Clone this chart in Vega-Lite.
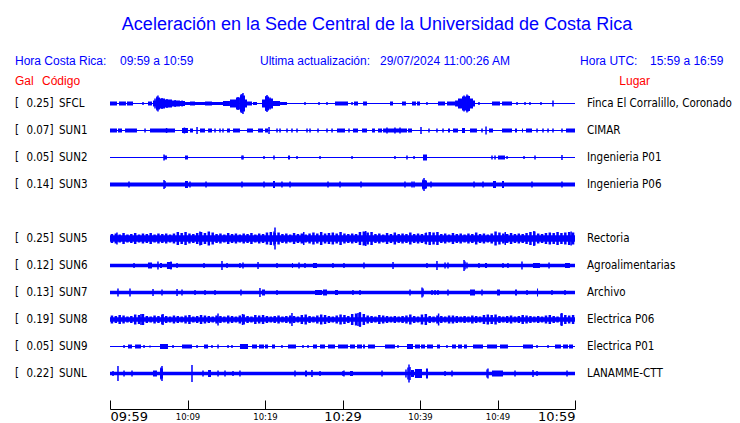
{
"$schema":"https://vega.github.io/schema/vega-lite/v6.json",
"width":465,"height":369,
"autosize":{"type":"none"},
"padding":{"left":110,"top":40,"right":165,"bottom":14},
"background":"#ffffff",
"config":{"view":{"stroke":null},"axisY":{"disable":true}},
"title":{"text":"Aceleración en la Sede Central de la Universidad de Costa Rica","font":"Liberation Sans","fontSize":18,"fontWeight":"normal","color":"#0000ff","anchor":"middle","dx":34.5,"offset":6},
"datasets":{
"st":[
{"s":"SFCL","g":0.25,"lugar":"Finca El Corralillo, Coronado","b":0.5},
{"s":"SUN1","g":0.07,"lugar":"CIMAR","b":0.5},
{"s":"SUN2","g":0.05,"lugar":"Ingenieria P01","b":0.5},
{"s":"SUN3","g":0.14,"lugar":"Ingenieria P06","b":2},
{"s":"SUN5","g":0.25,"lugar":"Rectoria","b":3.3},
{"s":"SUN6","g":0.12,"lugar":"Agroalimentarias","b":1.7},
{"s":"SUN7","g":0.13,"lugar":"Archivo","b":1.7},
{"s":"SUN8","g":0.19,"lugar":"Electrica P06","b":2.3},
{"s":"SUN9","g":0.05,"lugar":"Electrica P01","b":0.5},
{"s":"SUNL","g":0.22,"lugar":"LANAMME-CTT","b":1.8}
],
"blk":[
{"s":"SFCL","t":0,"t2":0.9,"a":2},{"s":"SFCL","t":1.16,"t2":2.06,"a":2},{"s":"SFCL","t":2.19,"t2":2.97,"a":2},{"s":"SFCL","t":4.9,"t2":5.42,"a":2},
{"s":"SFCL","t":5.55,"t2":5.94,"a":3},{"s":"SFCL","t":5.94,"t2":6.45,"a":6},{"s":"SFCL","t":6.45,"t2":7.1,"a":5},{"s":"SFCL","t":7.1,"t2":8.0,"a":4},
{"s":"SFCL","t":8.0,"t2":9.03,"a":3},{"s":"SFCL","t":9.03,"t2":9.68,"a":2.5},{"s":"SFCL","t":9.68,"t2":14.58,"a":1.5},{"s":"SFCL","t":10.32,"t2":10.97,"a":2},
{"s":"SFCL","t":12.26,"t2":13.16,"a":2},{"s":"SFCL","t":14.58,"t2":15.48,"a":2.5},{"s":"SFCL","t":15.48,"t2":16.26,"a":4},{"s":"SFCL","t":16.26,"t2":16.77,"a":6},
{"s":"SFCL","t":16.77,"t2":17.42,"a":8},{"s":"SFCL","t":17.42,"t2":17.68,"a":4},{"s":"SFCL","t":17.68,"t2":18.32,"a":2},{"s":"SFCL","t":18.45,"t2":18.97,"a":1.5},
{"s":"SFCL","t":19.61,"t2":20.0,"a":4},{"s":"SFCL","t":20.0,"t2":20.52,"a":7},{"s":"SFCL","t":20.52,"t2":21.03,"a":5},{"s":"SFCL","t":21.03,"t2":21.94,"a":2.5},
{"s":"SFCL","t":21.94,"t2":22.84,"a":1.5},{"s":"SFCL","t":29.03,"t2":30.71,"a":2},{"s":"SFCL","t":31.48,"t2":32.0,"a":2},{"s":"SFCL","t":32.65,"t2":33.16,"a":2},
{"s":"SFCL","t":36.13,"t2":36.52,"a":2},{"s":"SFCL","t":37.68,"t2":38.19,"a":2},{"s":"SFCL","t":38.97,"t2":39.48,"a":2},{"s":"SFCL","t":39.61,"t2":40.0,"a":2},
{"s":"SFCL","t":42.32,"t2":43.23,"a":2},{"s":"SFCL","t":43.48,"t2":44.52,"a":2},{"s":"SFCL","t":44.52,"t2":44.9,"a":3},{"s":"SFCL","t":44.9,"t2":45.42,"a":5},
{"s":"SFCL","t":45.42,"t2":45.94,"a":7},{"s":"SFCL","t":45.94,"t2":46.45,"a":7.5},{"s":"SFCL","t":46.45,"t2":46.84,"a":5},{"s":"SFCL","t":46.84,"t2":47.1,"a":3},
{"s":"SFCL","t":49.29,"t2":50.32,"a":2},{"s":"SFCL","t":50.58,"t2":51.87,"a":2},
{"s":"SUN1","t":0,"t2":0.9,"a":2},{"s":"SUN1","t":1.03,"t2":1.55,"a":2},{"s":"SUN1","t":1.94,"t2":2.32,"a":2},{"s":"SUN1","t":2.32,"t2":3.48,"a":2},
{"s":"SUN1","t":5.16,"t2":6.71,"a":2},{"s":"SUN1","t":6.71,"t2":8.39,"a":2},{"s":"SUN1","t":9.29,"t2":10.06,"a":2.5},{"s":"SUN1","t":10.32,"t2":10.71,"a":2},
{"s":"SUN1","t":11.61,"t2":12.26,"a":2},{"s":"SUN1","t":12.65,"t2":13.16,"a":2},{"s":"SUN1","t":15.1,"t2":15.48,"a":2},{"s":"SUN1","t":15.87,"t2":16.77,"a":2},
{"s":"SUN1","t":17.68,"t2":18.45,"a":2},{"s":"SUN1","t":19.1,"t2":19.74,"a":2},{"s":"SUN1","t":20.0,"t2":20.39,"a":2},{"s":"SUN1","t":29.29,"t2":30.32,"a":2},
{"s":"SUN1","t":31.35,"t2":32.0,"a":2},{"s":"SUN1","t":32.52,"t2":33.16,"a":2},{"s":"SUN1","t":33.81,"t2":34.19,"a":2},{"s":"SUN1","t":34.58,"t2":35.1,"a":2},
{"s":"SUN1","t":35.23,"t2":38.32,"a":2},{"s":"SUN1","t":38.45,"t2":38.97,"a":2},{"s":"SUN1","t":43.61,"t2":43.87,"a":2},{"s":"SUN1","t":44.26,"t2":44.9,"a":2},
{"s":"SUN1","t":45.42,"t2":45.81,"a":2.5},{"s":"SUN1","t":46.45,"t2":47.35,"a":2},{"s":"SUN1","t":48.9,"t2":49.42,"a":2},{"s":"SUN1","t":50.58,"t2":51.87,"a":2},
{"s":"SUN1","t":52.26,"t2":52.52,"a":2},{"s":"SUN1","t":53.16,"t2":53.29,"a":2},{"s":"SUN1","t":53.68,"t2":54.45,"a":2},{"s":"SUN1","t":58.84,"t2":60,"a":2},
{"s":"SUN2","t":6.97,"t2":7.35,"a":2},{"s":"SUN2","t":9.68,"t2":10.06,"a":2},{"s":"SUN2","t":22.97,"t2":23.23,"a":2},{"s":"SUN2","t":40.39,"t2":40.9,"a":3},{"s":"SUN2","t":50.06,"t2":50.97,"a":2},
{"s":"SUN3","t":9.68,"t2":10.06,"a":3.5},{"s":"SUN3","t":21.03,"t2":21.29,"a":3.5},{"s":"SUN3","t":40.26,"t2":40.9,"a":4},{"s":"SUN3","t":49.42,"t2":49.81,"a":3.5},{"s":"SUN3","t":50.58,"t2":50.84,"a":3.5},
{"s":"SUN6","t":4.9,"t2":5.42,"a":3},{"s":"SUN6","t":6.45,"t2":6.71,"a":2.5},{"s":"SUN6","t":7.35,"t2":8.0,"a":3.5},{"s":"SUN6","t":23.48,"t2":23.61,"a":2.5},
{"s":"SUN6","t":26.19,"t2":26.71,"a":2.5},{"s":"SUN6","t":48.39,"t2":48.65,"a":2.5},{"s":"SUN6","t":54.58,"t2":55.48,"a":2.5},{"s":"SUN6","t":58.71,"t2":59.35,"a":2.5},
{"s":"SUN7","t":19.61,"t2":20.0,"a":3},{"s":"SUN7","t":26.45,"t2":27.35,"a":2.5},{"s":"SUN7","t":27.48,"t2":28.0,"a":3},{"s":"SUN7","t":29.03,"t2":29.42,"a":2.5},
{"s":"SUN7","t":46.45,"t2":47.1,"a":3},{"s":"SUN7","t":49.94,"t2":50.32,"a":3},{"s":"SUN7","t":52.26,"t2":52.52,"a":3},{"s":"SUN7","t":55.1,"t2":55.23,"a":4},
{"s":"SUN9","t":2.32,"t2":2.84,"a":2},{"s":"SUN9","t":3.23,"t2":4.0,"a":2},{"s":"SUN9","t":6.45,"t2":7.48,"a":2.5},{"s":"SUN9","t":9.29,"t2":10.58,"a":2},
{"s":"SUN9","t":12.13,"t2":12.65,"a":2},{"s":"SUN9","t":16.77,"t2":17.81,"a":2.5},{"s":"SUN9","t":18.32,"t2":18.97,"a":2},{"s":"SUN9","t":19.23,"t2":19.87,"a":2},
{"s":"SUN9","t":20.0,"t2":20.39,"a":2},{"s":"SUN9","t":20.9,"t2":21.29,"a":2},{"s":"SUN9","t":22.97,"t2":24.0,"a":2},{"s":"SUN9","t":26.19,"t2":26.71,"a":2},
{"s":"SUN9","t":27.1,"t2":27.74,"a":2},{"s":"SUN9","t":28.13,"t2":29.03,"a":2},{"s":"SUN9","t":29.42,"t2":30.71,"a":2},{"s":"SUN9","t":30.97,"t2":31.61,"a":2},
{"s":"SUN9","t":31.87,"t2":32.52,"a":2},{"s":"SUN9","t":32.65,"t2":32.9,"a":2},{"s":"SUN9","t":33.29,"t2":34.19,"a":2},{"s":"SUN9","t":35.48,"t2":36.77,"a":2},
{"s":"SUN9","t":38.32,"t2":39.1,"a":2.5},{"s":"SUN9","t":39.35,"t2":40.0,"a":2},{"s":"SUN9","t":40.13,"t2":40.65,"a":2},{"s":"SUN9","t":40.9,"t2":41.68,"a":2},
{"s":"SUN9","t":42.19,"t2":42.58,"a":2},{"s":"SUN9","t":44.13,"t2":44.65,"a":2},{"s":"SUN9","t":44.9,"t2":45.42,"a":2},{"s":"SUN9","t":45.68,"t2":46.06,"a":2},
{"s":"SUN9","t":46.84,"t2":48.13,"a":2},{"s":"SUN9","t":48.65,"t2":49.94,"a":2},{"s":"SUN9","t":50.32,"t2":51.35,"a":2},{"s":"SUN9","t":53.29,"t2":54.58,"a":2},
{"s":"SUN9","t":57.42,"t2":58.19,"a":2},{"s":"SUN9","t":58.45,"t2":59.1,"a":2},{"s":"SUN9","t":59.23,"t2":59.74,"a":2},
{"s":"SUNL","t":5.55,"t2":6.06,"a":3},{"s":"SUNL","t":6.45,"t2":6.84,"a":5},{"s":"SUNL","t":12.65,"t2":13.03,"a":3.5},{"s":"SUNL","t":25.16,"t2":25.42,"a":3},
{"s":"SUNL","t":30.97,"t2":31.35,"a":2.5},{"s":"SUNL","t":38.84,"t2":39.23,"a":3.5},{"s":"SUNL","t":39.35,"t2":40.26,"a":4.5},{"s":"SUNL","t":40.77,"t2":41.03,"a":5},
{"s":"SUNL","t":49.29,"t2":50.71,"a":3}
],
"spk":[
{"s":"SFCL","t":4.26,"a":1.5},{"s":"SFCL","t":5.81,"a":5},{"s":"SFCL","t":6.06,"a":7},{"s":"SFCL","t":6.19,"a":8},{"s":"SFCL","t":6.71,"a":5.5},{"s":"SFCL","t":7.35,"a":4.5},
{"s":"SFCL","t":8.4,"a":3.5},{"s":"SFCL","t":9.3,"a":3},{"s":"SFCL","t":16.52,"a":6.5},{"s":"SFCL","t":16.9,"a":9},{"s":"SFCL","t":17.03,"a":9.5},{"s":"SFCL","t":17.16,"a":10.5},
{"s":"SFCL","t":20.13,"a":7.5},{"s":"SFCL","t":20.26,"a":8.5},{"s":"SFCL","t":20.65,"a":6},{"s":"SFCL","t":25.16,"a":1.5},{"s":"SFCL","t":26.97,"a":1.5},{"s":"SFCL","t":28.0,"a":1.5},
{"s":"SFCL","t":31.23,"a":1.5},{"s":"SFCL","t":40.9,"a":1.5},{"s":"SFCL","t":45.55,"a":6},{"s":"SFCL","t":45.68,"a":8},{"s":"SFCL","t":46.06,"a":9},{"s":"SFCL","t":46.2,"a":8},
{"s":"SFCL","t":47.61,"a":1.5},{"s":"SFCL","t":52.52,"a":1.5},{"s":"SFCL","t":53.55,"a":1.5},{"s":"SFCL","t":54.19,"a":1.5},{"s":"SFCL","t":55.61,"a":1.5},{"s":"SFCL","t":57.16,"a":3},
{"s":"SUN1","t":4.52,"a":2},{"s":"SUN1","t":7.3,"a":2.5},{"s":"SUN1","t":9.6,"a":3},{"s":"SUN1","t":11.23,"a":3.5},{"s":"SUN1","t":13.55,"a":2},{"s":"SUN1","t":14.19,"a":2},
{"s":"SUN1","t":14.58,"a":2},{"s":"SUN1","t":20.52,"a":3.5},{"s":"SUN1","t":21.55,"a":2},{"s":"SUN1","t":21.94,"a":2},{"s":"SUN1","t":22.84,"a":2},{"s":"SUN1","t":23.48,"a":2},
{"s":"SUN1","t":24.13,"a":2},{"s":"SUN1","t":25.42,"a":2},{"s":"SUN1","t":25.81,"a":2},{"s":"SUN1","t":26.84,"a":2},{"s":"SUN1","t":28.0,"a":2},{"s":"SUN1","t":28.65,"a":2},
{"s":"SUN1","t":30.84,"a":2},{"s":"SUN1","t":35.74,"a":3},{"s":"SUN1","t":36.77,"a":3},{"s":"SUN1","t":37.42,"a":3},{"s":"SUN1","t":40.13,"a":3.5},{"s":"SUN1","t":41.16,"a":2},
{"s":"SUN1","t":42.19,"a":2},{"s":"SUN1","t":42.97,"a":2},{"s":"SUN1","t":48.0,"a":2},{"s":"SUN1","t":48.52,"a":4},{"s":"SUN1","t":55.1,"a":2},{"s":"SUN1","t":55.87,"a":2},
{"s":"SUN1","t":56.52,"a":2},{"s":"SUN1","t":57.16,"a":2},{"s":"SUN1","t":58.32,"a":2},
{"s":"SUN2","t":6.97,"a":3},{"s":"SUN2","t":17.03,"a":2},{"s":"SUN2","t":17.16,"a":2},{"s":"SUN2","t":19.87,"a":1.5},{"s":"SUN2","t":21.16,"a":2},{"s":"SUN2","t":24.13,"a":1.5},
{"s":"SUN2","t":27.1,"a":1.5},{"s":"SUN2","t":31.23,"a":1.5},{"s":"SUN2","t":36.77,"a":1.5},{"s":"SUN2","t":38.32,"a":2},{"s":"SUN2","t":39.23,"a":1.5},{"s":"SUN2","t":49.29,"a":2},
{"s":"SUN2","t":49.68,"a":2},{"s":"SUN2","t":51.23,"a":1.5},{"s":"SUN2","t":53.42,"a":1.5},{"s":"SUN2","t":54.84,"a":2},{"s":"SUN2","t":58.32,"a":2.5},
{"s":"SUN3","t":2.45,"a":3},{"s":"SUN3","t":6.97,"a":4.5},{"s":"SUN3","t":7.1,"a":3.5},{"s":"SUN3","t":10.32,"a":3},{"s":"SUN3","t":12.39,"a":3},{"s":"SUN3","t":17.03,"a":3},
{"s":"SUN3","t":19.87,"a":3},{"s":"SUN3","t":22.19,"a":3},{"s":"SUN3","t":23.23,"a":3},{"s":"SUN3","t":28.13,"a":3},{"s":"SUN3","t":29.68,"a":3},{"s":"SUN3","t":32.39,"a":3},
{"s":"SUN3","t":38.06,"a":3},{"s":"SUN3","t":38.97,"a":3},{"s":"SUN3","t":39.23,"a":3},{"s":"SUN3","t":40.39,"a":5},{"s":"SUN3","t":40.52,"a":6.5},{"s":"SUN3","t":40.65,"a":4.5},
{"s":"SUN3","t":41.42,"a":3},{"s":"SUN3","t":46.97,"a":3},{"s":"SUN3","t":48.13,"a":3},{"s":"SUN3","t":54.45,"a":3},{"s":"SUN3","t":58.32,"a":3},
{"s":"SUN5","t":0.9,"a":6},{"s":"SUN5","t":11.6,"a":7},{"s":"SUN5","t":21.16,"a":7},{"s":"SUN5","t":21.29,"a":11},{"s":"SUN5","t":25.0,"a":6.5},{"s":"SUN5","t":33.0,"a":7.5},
{"s":"SUN5","t":40.8,"a":6},{"s":"SUN5","t":51.0,"a":6.5},{"s":"SUN5","t":54.7,"a":7.5},{"s":"SUN5","t":59.5,"a":7},
{"s":"SUN6","t":3.1,"a":2.5},{"s":"SUN6","t":6.19,"a":4},{"s":"SUN6","t":7.87,"a":4},{"s":"SUN6","t":8.65,"a":2.5},{"s":"SUN6","t":12.13,"a":2.5},{"s":"SUN6","t":14.45,"a":4.5},
{"s":"SUN6","t":15.1,"a":2.5},{"s":"SUN6","t":16.77,"a":2.5},{"s":"SUN6","t":17.16,"a":3},{"s":"SUN6","t":19.1,"a":3.5},{"s":"SUN6","t":21.55,"a":2.5},{"s":"SUN6","t":24.39,"a":3},
{"s":"SUN6","t":25.16,"a":2.5},{"s":"SUN6","t":28.77,"a":2.5},{"s":"SUN6","t":30.19,"a":2.5},{"s":"SUN6","t":32.77,"a":3},{"s":"SUN6","t":36.52,"a":3.5},{"s":"SUN6","t":40.9,"a":2.5},
{"s":"SUN6","t":42.19,"a":4.5},{"s":"SUN6","t":43.23,"a":3},{"s":"SUN6","t":43.61,"a":3},{"s":"SUN6","t":45.68,"a":5.5},{"s":"SUN6","t":45.81,"a":4},{"s":"SUN6","t":46.06,"a":3},
{"s":"SUN6","t":47.61,"a":2.5},{"s":"SUN6","t":50.71,"a":2.5},{"s":"SUN6","t":51.35,"a":2.5},{"s":"SUN6","t":53.16,"a":4},{"s":"SUN6","t":56.65,"a":3},
{"s":"SUN7","t":1.03,"a":4},{"s":"SUN7","t":2.58,"a":4},{"s":"SUN7","t":5.55,"a":3.5},{"s":"SUN7","t":6.71,"a":3},{"s":"SUN7","t":8.65,"a":3.5},{"s":"SUN7","t":9.29,"a":3},
{"s":"SUN7","t":10.97,"a":2.5},{"s":"SUN7","t":12.26,"a":2.5},{"s":"SUN7","t":13.55,"a":2.5},{"s":"SUN7","t":16.9,"a":3},{"s":"SUN7","t":19.35,"a":4.5},{"s":"SUN7","t":21.55,"a":2.5},
{"s":"SUN7","t":31.35,"a":2.5},{"s":"SUN7","t":32.26,"a":2.5},{"s":"SUN7","t":38.71,"a":3},{"s":"SUN7","t":40.26,"a":5},{"s":"SUN7","t":40.39,"a":4},{"s":"SUN7","t":41.55,"a":2.5},
{"s":"SUN7","t":41.94,"a":2.5},{"s":"SUN7","t":42.32,"a":2.5},{"s":"SUN7","t":43.61,"a":3},{"s":"SUN7","t":48.0,"a":3},{"s":"SUN7","t":53.81,"a":2.5},{"s":"SUN7","t":57.03,"a":2.5},
{"s":"SUN7","t":58.71,"a":2.5},
{"s":"SUN8","t":4.0,"a":5.5},{"s":"SUN8","t":6.84,"a":5.5},{"s":"SUN8","t":13.94,"a":6},{"s":"SUN8","t":17.1,"a":5.5},{"s":"SUN8","t":23.48,"a":6.5},{"s":"SUN8","t":32.0,"a":6.5},
{"s":"SUN8","t":32.26,"a":7.5},{"s":"SUN8","t":42.4,"a":6},{"s":"SUN8","t":58.3,"a":6.5},
{"s":"SUN9","t":1.81,"a":1.5},{"s":"SUN9","t":4.39,"a":1.5},{"s":"SUN9","t":5.16,"a":1},{"s":"SUN9","t":8.13,"a":1.5},{"s":"SUN9","t":11.23,"a":1.5},{"s":"SUN9","t":13.16,"a":1.5},
{"s":"SUN9","t":13.94,"a":2},{"s":"SUN9","t":15.23,"a":1.5},{"s":"SUN9","t":15.74,"a":1.5},{"s":"SUN9","t":22.19,"a":1.5},{"s":"SUN9","t":24.9,"a":1.5},{"s":"SUN9","t":25.55,"a":1.5},
{"s":"SUN9","t":37.16,"a":1.5},{"s":"SUN9","t":43.48,"a":1.5},{"s":"SUN9","t":55.1,"a":1.5},{"s":"SUN9","t":56.52,"a":1.5},
{"s":"SUNL","t":0.39,"a":2.5},{"s":"SUNL","t":1.03,"a":7.5},{"s":"SUNL","t":1.81,"a":3},{"s":"SUNL","t":2.84,"a":3},{"s":"SUNL","t":6.58,"a":6},{"s":"SUNL","t":6.71,"a":7.5},
{"s":"SUNL","t":10.58,"a":8.5},{"s":"SUNL","t":12.0,"a":3},{"s":"SUNL","t":13.94,"a":3},{"s":"SUNL","t":14.84,"a":3},{"s":"SUNL","t":15.87,"a":2.5},{"s":"SUNL","t":16.77,"a":3},
{"s":"SUNL","t":23.87,"a":3},{"s":"SUNL","t":26.06,"a":3.5},{"s":"SUNL","t":27.1,"a":2.5},{"s":"SUNL","t":30.06,"a":2.5},{"s":"SUNL","t":30.19,"a":3},{"s":"SUNL","t":35.1,"a":3},
{"s":"SUNL","t":38.19,"a":4},{"s":"SUNL","t":38.45,"a":6},{"s":"SUNL","t":38.58,"a":9},{"s":"SUNL","t":38.71,"a":6.5},{"s":"SUNL","t":43.23,"a":2.5},{"s":"SUNL","t":44.13,"a":3},
{"s":"SUNL","t":48.65,"a":4},{"s":"SUNL","t":48.77,"a":5},{"s":"SUNL","t":52.26,"a":3},{"s":"SUNL","t":54.58,"a":3.5},{"s":"SUNL","t":55.1,"a":2.5},{"s":"SUNL","t":58.97,"a":3}
],
"nz":[
{"s":"SUN5","t":0.25,"a":4.5},{"s":"SUN5","t":0.75,"a":5},{"s":"SUN5","t":1.25,"a":4},{"s":"SUN5","t":1.75,"a":5.5},{"s":"SUN5","t":2.25,"a":4},{"s":"SUN5","t":2.75,"a":4.5},{"s":"SUN5","t":3.25,"a":5.5},{"s":"SUN5","t":3.75,"a":4},{"s":"SUN5","t":4.25,"a":5},{"s":"SUN5","t":4.75,"a":4.5},
{"s":"SUN5","t":5.25,"a":5.5},{"s":"SUN5","t":5.75,"a":4},{"s":"SUN5","t":6.25,"a":5},{"s":"SUN5","t":6.75,"a":4.5},{"s":"SUN5","t":7.25,"a":5},{"s":"SUN5","t":7.75,"a":4},{"s":"SUN5","t":8.25,"a":5},{"s":"SUN5","t":8.75,"a":6.5},{"s":"SUN5","t":9.25,"a":5.5},{"s":"SUN5","t":9.75,"a":6.5},
{"s":"SUN5","t":10.25,"a":5},{"s":"SUN5","t":10.75,"a":4.5},{"s":"SUN5","t":11.25,"a":5.5},{"s":"SUN5","t":11.75,"a":6.5},{"s":"SUN5","t":12.25,"a":5.5},{"s":"SUN5","t":12.75,"a":7},{"s":"SUN5","t":13.25,"a":6},{"s":"SUN5","t":13.75,"a":4.5},{"s":"SUN5","t":14.25,"a":5},{"s":"SUN5","t":14.75,"a":4},
{"s":"SUN5","t":15.25,"a":5.5},{"s":"SUN5","t":15.75,"a":4.5},{"s":"SUN5","t":16.25,"a":5},{"s":"SUN5","t":16.75,"a":4},{"s":"SUN5","t":17.25,"a":5},{"s":"SUN5","t":17.75,"a":4.5},{"s":"SUN5","t":18.25,"a":5.5},{"s":"SUN5","t":18.75,"a":4},{"s":"SUN5","t":19.25,"a":5},{"s":"SUN5","t":19.75,"a":4.5},
{"s":"SUN5","t":20.25,"a":6},{"s":"SUN5","t":20.75,"a":6.5},{"s":"SUN5","t":21.25,"a":5.5},{"s":"SUN5","t":21.75,"a":6},{"s":"SUN5","t":22.25,"a":4.5},{"s":"SUN5","t":22.75,"a":5},{"s":"SUN5","t":23.25,"a":4},{"s":"SUN5","t":23.75,"a":5.5},{"s":"SUN5","t":24.25,"a":4.5},{"s":"SUN5","t":24.75,"a":5},
{"s":"SUN5","t":25.25,"a":4},{"s":"SUN5","t":25.75,"a":5},{"s":"SUN5","t":26.25,"a":6},{"s":"SUN5","t":26.75,"a":5},{"s":"SUN5","t":27.25,"a":6.5},{"s":"SUN5","t":27.75,"a":5},{"s":"SUN5","t":28.25,"a":5.5},{"s":"SUN5","t":28.75,"a":6},{"s":"SUN5","t":29.25,"a":5},{"s":"SUN5","t":29.75,"a":6.5},
{"s":"SUN5","t":30.25,"a":5},{"s":"SUN5","t":30.75,"a":4.5},{"s":"SUN5","t":31.25,"a":5},{"s":"SUN5","t":31.75,"a":4.5},{"s":"SUN5","t":32.25,"a":6.5},{"s":"SUN5","t":32.75,"a":7},{"s":"SUN5","t":33.25,"a":6},{"s":"SUN5","t":33.75,"a":6.5},{"s":"SUN5","t":34.25,"a":4.5},{"s":"SUN5","t":34.75,"a":5},
{"s":"SUN5","t":35.25,"a":4},{"s":"SUN5","t":35.75,"a":5.5},{"s":"SUN5","t":36.25,"a":4.5},{"s":"SUN5","t":36.75,"a":6},{"s":"SUN5","t":37.25,"a":4.5},{"s":"SUN5","t":37.75,"a":5},{"s":"SUN5","t":38.25,"a":4.5},{"s":"SUN5","t":38.75,"a":6},{"s":"SUN5","t":39.25,"a":4.5},{"s":"SUN5","t":39.75,"a":5},
{"s":"SUN5","t":40.25,"a":4.5},{"s":"SUN5","t":40.75,"a":5.5},{"s":"SUN5","t":41.25,"a":6.5},{"s":"SUN5","t":41.75,"a":6},{"s":"SUN5","t":42.25,"a":6.5},{"s":"SUN5","t":42.75,"a":4.5},{"s":"SUN5","t":43.25,"a":5},{"s":"SUN5","t":43.75,"a":4},{"s":"SUN5","t":44.25,"a":5.5},{"s":"SUN5","t":44.75,"a":4.5},
{"s":"SUN5","t":45.25,"a":5},{"s":"SUN5","t":45.75,"a":4},{"s":"SUN5","t":46.25,"a":5},{"s":"SUN5","t":46.75,"a":4.5},{"s":"SUN5","t":47.25,"a":6},{"s":"SUN5","t":47.75,"a":4.5},{"s":"SUN5","t":48.25,"a":5},{"s":"SUN5","t":48.75,"a":4},{"s":"SUN5","t":49.25,"a":5},{"s":"SUN5","t":49.75,"a":7},
{"s":"SUN5","t":50.25,"a":6},{"s":"SUN5","t":50.75,"a":5},{"s":"SUN5","t":51.25,"a":4.5},{"s":"SUN5","t":51.75,"a":5.5},{"s":"SUN5","t":52.25,"a":4.5},{"s":"SUN5","t":52.75,"a":5},{"s":"SUN5","t":53.25,"a":4.5},{"s":"SUN5","t":53.75,"a":5.5},{"s":"SUN5","t":54.25,"a":6.5},{"s":"SUN5","t":54.75,"a":7},
{"s":"SUN5","t":55.25,"a":5},{"s":"SUN5","t":55.75,"a":4.5},{"s":"SUN5","t":56.25,"a":5.5},{"s":"SUN5","t":56.75,"a":6},{"s":"SUN5","t":57.25,"a":5.5},{"s":"SUN5","t":57.75,"a":6.5},{"s":"SUN5","t":58.25,"a":5.5},{"s":"SUN5","t":58.75,"a":6},{"s":"SUN5","t":59.25,"a":6.5},{"s":"SUN5","t":59.75,"a":6},
{"s":"SUN8","t":0.25,"a":4},{"s":"SUN8","t":0.75,"a":3.5},{"s":"SUN8","t":1.25,"a":4.5},{"s":"SUN8","t":1.75,"a":4},{"s":"SUN8","t":2.25,"a":3},{"s":"SUN8","t":2.75,"a":3.5},{"s":"SUN8","t":3.25,"a":5},{"s":"SUN8","t":3.75,"a":4.5},{"s":"SUN8","t":4.25,"a":5.5},{"s":"SUN8","t":4.75,"a":3.5},
{"s":"SUN8","t":5.25,"a":3},{"s":"SUN8","t":5.75,"a":4},{"s":"SUN8","t":6.25,"a":3.5},{"s":"SUN8","t":6.75,"a":5},{"s":"SUN8","t":7.25,"a":3.5},{"s":"SUN8","t":7.75,"a":3},{"s":"SUN8","t":8.25,"a":4},{"s":"SUN8","t":8.75,"a":3.5},{"s":"SUN8","t":9.25,"a":3},{"s":"SUN8","t":9.75,"a":4},
{"s":"SUN8","t":10.25,"a":4.5},{"s":"SUN8","t":10.75,"a":3},{"s":"SUN8","t":11.25,"a":3.5},{"s":"SUN8","t":11.75,"a":4.5},{"s":"SUN8","t":12.25,"a":4},{"s":"SUN8","t":12.75,"a":3.5},{"s":"SUN8","t":13.25,"a":3},{"s":"SUN8","t":13.75,"a":4},{"s":"SUN8","t":14.25,"a":3.5},{"s":"SUN8","t":14.75,"a":3},
{"s":"SUN8","t":15.25,"a":4},{"s":"SUN8","t":15.75,"a":3.5},{"s":"SUN8","t":16.25,"a":3},{"s":"SUN8","t":16.75,"a":4},{"s":"SUN8","t":17.25,"a":5},{"s":"SUN8","t":17.75,"a":3.5},{"s":"SUN8","t":18.25,"a":3},{"s":"SUN8","t":18.75,"a":4.5},{"s":"SUN8","t":19.25,"a":4},{"s":"SUN8","t":19.75,"a":4.5},
{"s":"SUN8","t":20.25,"a":3.5},{"s":"SUN8","t":20.75,"a":3},{"s":"SUN8","t":21.25,"a":3.5},{"s":"SUN8","t":21.75,"a":4},{"s":"SUN8","t":22.25,"a":3},{"s":"SUN8","t":22.75,"a":3.5},{"s":"SUN8","t":23.25,"a":4},{"s":"SUN8","t":23.75,"a":3.5},{"s":"SUN8","t":24.25,"a":3},{"s":"SUN8","t":24.75,"a":4.5},
{"s":"SUN8","t":25.25,"a":5},{"s":"SUN8","t":25.75,"a":3.5},{"s":"SUN8","t":26.25,"a":3},{"s":"SUN8","t":26.75,"a":4},{"s":"SUN8","t":27.25,"a":5},{"s":"SUN8","t":27.75,"a":4.5},{"s":"SUN8","t":28.25,"a":3.5},{"s":"SUN8","t":28.75,"a":3},{"s":"SUN8","t":29.25,"a":4},{"s":"SUN8","t":29.75,"a":5},
{"s":"SUN8","t":30.25,"a":4.5},{"s":"SUN8","t":30.75,"a":3.5},{"s":"SUN8","t":31.25,"a":5.5},{"s":"SUN8","t":31.75,"a":6},{"s":"SUN8","t":32.25,"a":7},{"s":"SUN8","t":32.75,"a":5.5},{"s":"SUN8","t":33.25,"a":4},{"s":"SUN8","t":33.75,"a":3.5},{"s":"SUN8","t":34.25,"a":3},{"s":"SUN8","t":34.75,"a":4.5},
{"s":"SUN8","t":35.25,"a":4},{"s":"SUN8","t":35.75,"a":3.5},{"s":"SUN8","t":36.25,"a":3},{"s":"SUN8","t":36.75,"a":3.5},{"s":"SUN8","t":37.25,"a":3},{"s":"SUN8","t":37.75,"a":3.5},{"s":"SUN8","t":38.25,"a":4},{"s":"SUN8","t":38.75,"a":5},{"s":"SUN8","t":39.25,"a":3.5},{"s":"SUN8","t":39.75,"a":3},
{"s":"SUN8","t":40.25,"a":5},{"s":"SUN8","t":40.75,"a":5.5},{"s":"SUN8","t":41.25,"a":3.5},{"s":"SUN8","t":41.75,"a":3},{"s":"SUN8","t":42.25,"a":4},{"s":"SUN8","t":42.75,"a":3.5},{"s":"SUN8","t":43.25,"a":3},{"s":"SUN8","t":43.75,"a":4},{"s":"SUN8","t":44.25,"a":4},{"s":"SUN8","t":44.75,"a":3.5},
{"s":"SUN8","t":45.25,"a":3},{"s":"SUN8","t":45.75,"a":3.5},{"s":"SUN8","t":46.25,"a":3},{"s":"SUN8","t":46.75,"a":4},{"s":"SUN8","t":47.25,"a":3.5},{"s":"SUN8","t":47.75,"a":3},{"s":"SUN8","t":48.25,"a":4.5},{"s":"SUN8","t":48.75,"a":5},{"s":"SUN8","t":49.25,"a":4.5},{"s":"SUN8","t":49.75,"a":5},
{"s":"SUN8","t":50.25,"a":3.5},{"s":"SUN8","t":50.75,"a":3},{"s":"SUN8","t":51.25,"a":3.5},{"s":"SUN8","t":51.75,"a":4},{"s":"SUN8","t":52.25,"a":3},{"s":"SUN8","t":52.75,"a":3.5},{"s":"SUN8","t":53.25,"a":4.5},{"s":"SUN8","t":53.75,"a":4},{"s":"SUN8","t":54.25,"a":3.5},{"s":"SUN8","t":54.75,"a":3},
{"s":"SUN8","t":55.25,"a":3.5},{"s":"SUN8","t":55.75,"a":3},{"s":"SUN8","t":56.25,"a":4},{"s":"SUN8","t":56.75,"a":4.5},{"s":"SUN8","t":57.25,"a":3.5},{"s":"SUN8","t":57.75,"a":3},{"s":"SUN8","t":58.25,"a":6},{"s":"SUN8","t":58.75,"a":4.5},{"s":"SUN8","t":59.25,"a":4},{"s":"SUN8","t":59.75,"a":4.5}
]
},
"layer":[
{"data":{"name":"blk"},
 "transform":[{"calculate":"indexof(['SFCL','SUN1','SUN2','SUN3','SUN4','SUN5','SUN6','SUN7','SUN8','SUN9','SUNL'],datum.s)","as":"slot"},{"calculate":"datum.slot-datum.a/27","as":"lo"},{"calculate":"datum.slot+datum.a/27","as":"hi"}],
 "mark":{"type":"rect","color":"#0000ff"},
 "encoding":{
  "x":{"field":"t","type":"quantitative","scale":{"domain":[0,60],"nice":false,"zero":false},
   "axis":{"title":null,"values":[0,5,10,15,20,25,30,35,40,45,50,55,60],"tickSize":-9,"tickColor":"#000000","domainColor":"#000000","grid":false,
    "labelExpr":"datum.value % 10 == 0 ? ['09:59','10:09','10:19','10:29','10:39','10:49','10:59'][datum.value/10] : ''",
    "labelFont":"DejaVu Sans","labelFontSize":{"condition":{"test":"datum.value % 30 == 0","value":13},"value":8.5},
    "labelColor":"#000000","labelBaseline":"middle","labelPadding":16}},
  "x2":{"field":"t2"},
  "y":{"field":"lo","type":"quantitative","scale":{"domain":[-2.3519,11.3148],"reverse":true,"nice":false,"zero":false},"axis":null},
  "y2":{"field":"hi"}}},
{"data":{"name":"st"},
 "transform":[{"calculate":"indexof(['SFCL','SUN1','SUN2','SUN3','SUN4','SUN5','SUN6','SUN7','SUN8','SUN9','SUNL'],datum.s)","as":"slot"},{"calculate":"datum.slot-datum.b/27","as":"lo"},{"calculate":"datum.slot+datum.b/27","as":"hi"}],
 "mark":{"type":"rect","color":"#0000ff"},
 "encoding":{
  "x":{"datum":0,"type":"quantitative","scale":{"domain":[0,60],"nice":false,"zero":false}},
  "x2":{"datum":60},
  "y":{"field":"lo","type":"quantitative","scale":{"domain":[-2.3519,11.3148],"reverse":true,"nice":false,"zero":false},"axis":null},
  "y2":{"field":"hi"}}},
{"data":{"name":"spk"},
 "transform":[{"calculate":"indexof(['SFCL','SUN1','SUN2','SUN3','SUN4','SUN5','SUN6','SUN7','SUN8','SUN9','SUNL'],datum.s)","as":"slot"},{"calculate":"datum.slot-datum.a/27","as":"lo"},{"calculate":"datum.slot+datum.a/27","as":"hi"}],
 "mark":{"type":"rule","color":"#0000ff","strokeWidth":1.5},
 "encoding":{
  "x":{"field":"t","type":"quantitative","scale":{"domain":[0,60],"nice":false,"zero":false}},
  "y":{"field":"lo","type":"quantitative","scale":{"domain":[-2.3519,11.3148],"reverse":true,"nice":false,"zero":false},"axis":null},
  "y2":{"field":"hi"}}},
{"data":{"name":"nz"},
 "transform":[{"calculate":"indexof(['SFCL','SUN1','SUN2','SUN3','SUN4','SUN5','SUN6','SUN7','SUN8','SUN9','SUNL'],datum.s)","as":"slot"},{"calculate":"datum.slot-datum.a/27","as":"lo"},{"calculate":"datum.slot+datum.a/27","as":"hi"}],
 "mark":{"type":"rule","color":"#0000ff","strokeWidth":2.5},
 "encoding":{
  "x":{"field":"t","type":"quantitative","scale":{"domain":[0,60],"nice":false,"zero":false}},
  "y":{"field":"lo","type":"quantitative","scale":{"domain":[-2.3519,11.3148],"reverse":true,"nice":false,"zero":false},"axis":null},
  "y2":{"field":"hi"}}},
{"data":{"name":"st"},
 "transform":[{"calculate":"indexof(['SFCL','SUN1','SUN2','SUN3','SUN4','SUN5','SUN6','SUN7','SUN8','SUN9','SUNL'],datum.s)","as":"slot"}],
 "mark":{"type":"text","text":"[","align":"left","baseline":"middle","font":"DejaVu Sans Condensed, DejaVu Sans","fontSize":11.5,"color":"#000000"},
 "encoding":{
  "x":{"datum":-12.258,"type":"quantitative","scale":{"domain":[0,60],"nice":false,"zero":false}},
  "y":{"field":"slot","type":"quantitative","scale":{"domain":[-2.3519,11.3148],"reverse":true,"nice":false,"zero":false},"axis":null}}},
{"data":{"name":"st"},
 "transform":[{"calculate":"indexof(['SFCL','SUN1','SUN2','SUN3','SUN4','SUN5','SUN6','SUN7','SUN8','SUN9','SUNL'],datum.s)","as":"slot"},{"calculate":"format(datum.g,'.2f')+']'","as":"gl"}],
 "mark":{"type":"text","align":"right","baseline":"middle","font":"DejaVu Sans Condensed, DejaVu Sans","fontSize":11.5,"color":"#000000"},
 "encoding":{
  "x":{"datum":-7.29,"type":"quantitative","scale":{"domain":[0,60],"nice":false,"zero":false}},
  "y":{"field":"slot","type":"quantitative","scale":{"domain":[-2.3519,11.3148],"reverse":true,"nice":false,"zero":false},"axis":null},
  "text":{"field":"gl"}}},
{"data":{"name":"st"},
 "transform":[{"calculate":"indexof(['SFCL','SUN1','SUN2','SUN3','SUN4','SUN5','SUN6','SUN7','SUN8','SUN9','SUNL'],datum.s)","as":"slot"}],
 "mark":{"type":"text","align":"left","baseline":"middle","font":"DejaVu Sans Condensed, DejaVu Sans","fontSize":11.5,"color":"#000000"},
 "encoding":{
  "x":{"datum":-6.58,"type":"quantitative","scale":{"domain":[0,60],"nice":false,"zero":false}},
  "y":{"field":"slot","type":"quantitative","scale":{"domain":[-2.3519,11.3148],"reverse":true,"nice":false,"zero":false},"axis":null},
  "text":{"field":"s"}}},
{"data":{"name":"st"},
 "transform":[{"calculate":"indexof(['SFCL','SUN1','SUN2','SUN3','SUN4','SUN5','SUN6','SUN7','SUN8','SUN9','SUNL'],datum.s)","as":"slot"}],
 "mark":{"type":"text","align":"left","baseline":"middle","font":"DejaVu Sans Condensed, DejaVu Sans","fontSize":11.5,"color":"#000000"},
 "encoding":{
  "x":{"datum":61.55,"type":"quantitative","scale":{"domain":[0,60],"nice":false,"zero":false}},
  "y":{"field":"slot","type":"quantitative","scale":{"domain":[-2.3519,11.3148],"reverse":true,"nice":false,"zero":false},"axis":null},
  "text":{"field":"lugar"}}},
{"data":{"values":[{}]},"mark":{"type":"text","text":"Hora Costa Rica:","align":"left","baseline":"middle","font":"Liberation Sans","fontSize":12,"color":"#0000ff"},
 "encoding":{"x":{"datum":-12.258,"type":"quantitative","scale":{"domain":[0,60],"nice":false,"zero":false}},"y":{"datum":-1.574,"type":"quantitative","scale":{"domain":[-2.3519,11.3148],"reverse":true,"nice":false,"zero":false},"axis":null}}},
{"data":{"values":[{}]},"mark":{"type":"text","text":"09:59 a 10:59","align":"left","baseline":"middle","font":"Liberation Sans","fontSize":12,"color":"#0000ff"},
 "encoding":{"x":{"datum":1.29,"type":"quantitative","scale":{"domain":[0,60],"nice":false,"zero":false}},"y":{"datum":-1.574,"type":"quantitative","scale":{"domain":[-2.3519,11.3148],"reverse":true,"nice":false,"zero":false},"axis":null}}},
{"data":{"values":[{}]},"mark":{"type":"text","text":"Ultima actualización:","align":"left","baseline":"middle","font":"Liberation Sans","fontSize":12,"color":"#0000ff"},
 "encoding":{"x":{"datum":19.35,"type":"quantitative","scale":{"domain":[0,60],"nice":false,"zero":false}},"y":{"datum":-1.574,"type":"quantitative","scale":{"domain":[-2.3519,11.3148],"reverse":true,"nice":false,"zero":false},"axis":null}}},
{"data":{"values":[{}]},"mark":{"type":"text","text":"29/07/2024 11:00:26 AM","align":"left","baseline":"middle","font":"Liberation Sans","fontSize":12,"color":"#0000ff"},
 "encoding":{"x":{"datum":34.84,"type":"quantitative","scale":{"domain":[0,60],"nice":false,"zero":false}},"y":{"datum":-1.574,"type":"quantitative","scale":{"domain":[-2.3519,11.3148],"reverse":true,"nice":false,"zero":false},"axis":null}}},
{"data":{"values":[{}]},"mark":{"type":"text","text":"Hora UTC:","align":"left","baseline":"middle","font":"Liberation Sans","fontSize":12,"color":"#0000ff"},
 "encoding":{"x":{"datum":60.65,"type":"quantitative","scale":{"domain":[0,60],"nice":false,"zero":false}},"y":{"datum":-1.574,"type":"quantitative","scale":{"domain":[-2.3519,11.3148],"reverse":true,"nice":false,"zero":false},"axis":null}}},
{"data":{"values":[{}]},"mark":{"type":"text","text":"15:59 a 16:59","align":"left","baseline":"middle","font":"Liberation Sans","fontSize":12,"color":"#0000ff"},
 "encoding":{"x":{"datum":69.68,"type":"quantitative","scale":{"domain":[0,60],"nice":false,"zero":false}},"y":{"datum":-1.574,"type":"quantitative","scale":{"domain":[-2.3519,11.3148],"reverse":true,"nice":false,"zero":false},"axis":null}}},
{"data":{"values":[{}]},"mark":{"type":"text","text":"Gal","align":"left","baseline":"middle","font":"Liberation Sans","fontSize":12,"color":"#ff0000"},
 "encoding":{"x":{"datum":-12.258,"type":"quantitative","scale":{"domain":[0,60],"nice":false,"zero":false}},"y":{"datum":-0.833,"type":"quantitative","scale":{"domain":[-2.3519,11.3148],"reverse":true,"nice":false,"zero":false},"axis":null}}},
{"data":{"values":[{}]},"mark":{"type":"text","text":"Código","align":"left","baseline":"middle","font":"Liberation Sans","fontSize":12,"color":"#ff0000"},
 "encoding":{"x":{"datum":-8.77,"type":"quantitative","scale":{"domain":[0,60],"nice":false,"zero":false}},"y":{"datum":-0.833,"type":"quantitative","scale":{"domain":[-2.3519,11.3148],"reverse":true,"nice":false,"zero":false},"axis":null}}},
{"data":{"values":[{}]},"mark":{"type":"text","text":"Lugar","align":"right","baseline":"middle","font":"Liberation Sans","fontSize":12,"color":"#ff0000"},
 "encoding":{"x":{"datum":69.677,"type":"quantitative","scale":{"domain":[0,60],"nice":false,"zero":false}},"y":{"datum":-0.833,"type":"quantitative","scale":{"domain":[-2.3519,11.3148],"reverse":true,"nice":false,"zero":false},"axis":null}}}
]
}
